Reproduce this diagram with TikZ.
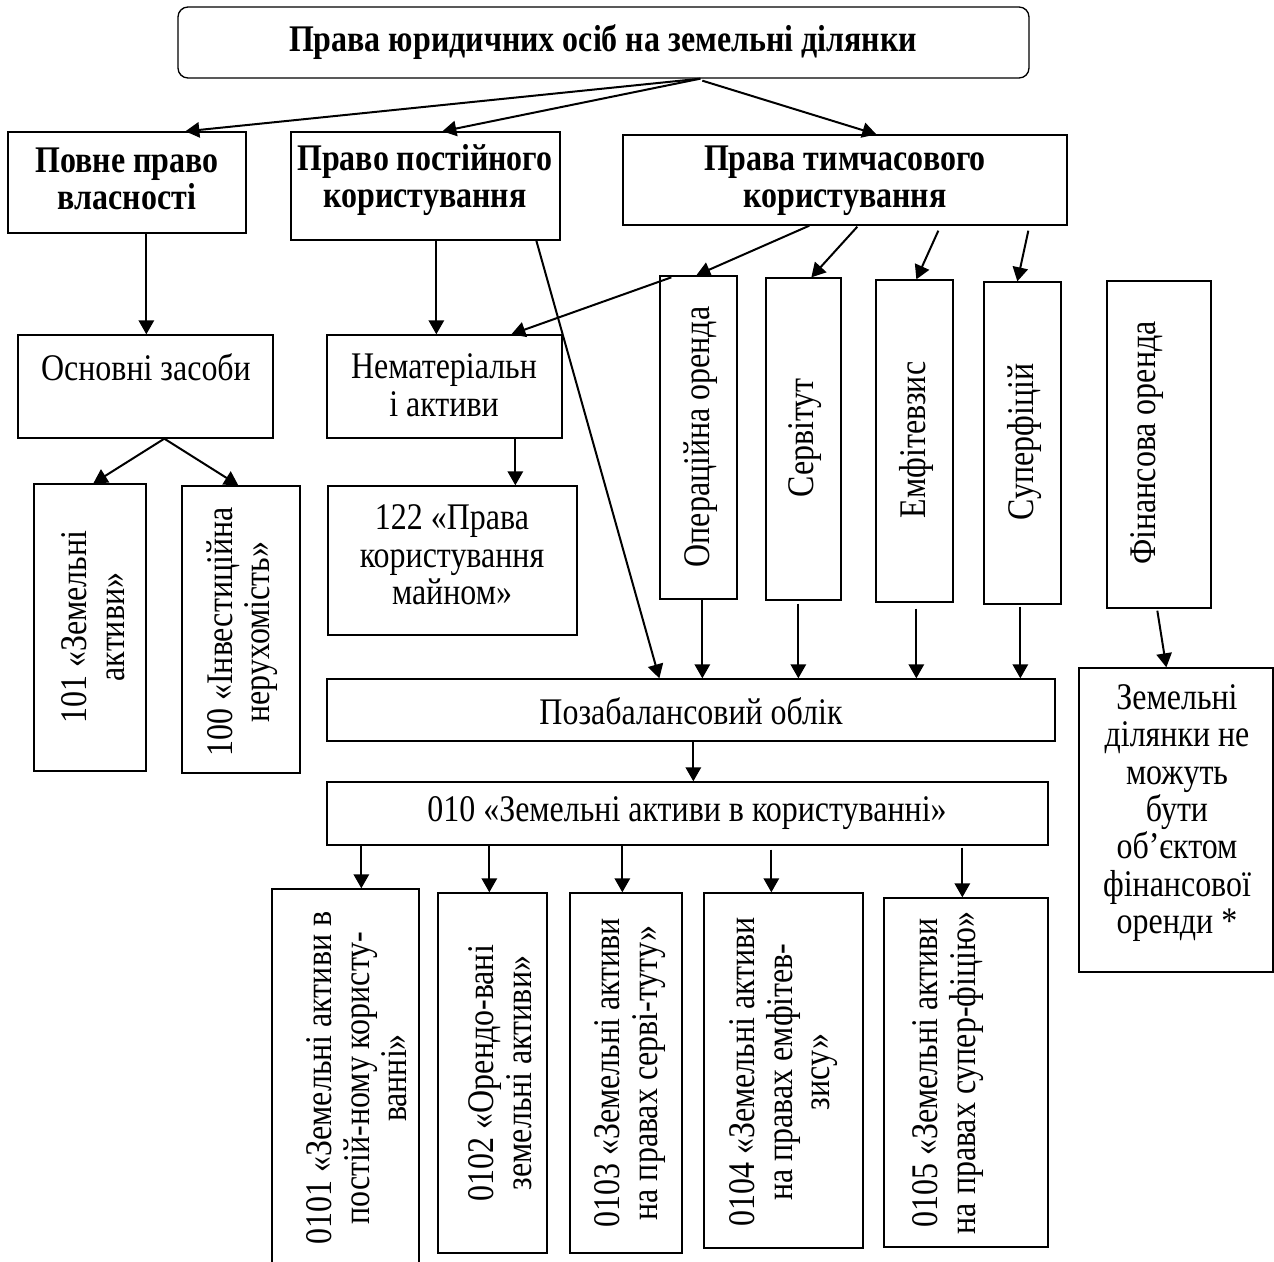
\documentclass[tikz,border=0pt]{standalone}
\usepackage{fontspec}
\setmainfont{Liberation Serif}[FakeStretch=0.85]
\usetikzlibrary{arrows.meta,fit,calc}
\begin{document}
\begin{tikzpicture}[x=0.75pt,y=-0.75pt,
  box/.style={draw, line width=1pt, inner sep=0pt, fill=white},
  txt/.style={inner sep=0pt, align=center, font=\fontsize{28.2}{28.1}\selectfont},
  btxt/.style={inner sep=0pt, align=center, font=\fontsize{28.2}{28.1}\selectfont\bfseries},
  vtxt/.style={inner sep=0pt, align=center, font=\fontsize{28.2}{28.1}\selectfont, rotate=90},
  arr/.style={line width=1.5pt, -{Triangle[length=10.5pt,width=11.5pt]}}]
\useasboundingbox (0,0) rectangle (1274,1261);
\fill[white] (0,0) rectangle (1274,1261);
\clip (0,0) rectangle (1274,1261);

% ---------- boxes ----------
\node[box, rounded corners=7.5pt, fit={(178,7)(1029,78)}] (top) {};
\node[box, fit={(8,132)(246,233)}] (full) {};
\node[box, fit={(291,132)(560,240)}] (perm) {};
\node[box, fit={(623,135)(1067,225)}] (temp) {};
\node[box, fit={(18,335)(273,438)}] (os) {};
\node[box, fit={(327,335)(562,438)}] (nem) {};
\node[box, fit={(34,484)(146,771)}] (b101) {};
\node[box, fit={(182,486)(300,773)}] (b100) {};
\node[box, fit={(328,486)(577,635)}] (b122) {};
\node[box, fit={(660,276)(737,599)}] (oper) {};
\node[box, fit={(766,278)(841,600)}] (serv) {};
\node[box, fit={(876,280)(953,602)}] (emf) {};
\node[box, fit={(984,282)(1061,604)}] (sup) {};
\node[box, fit={(1107,281)(1211,608)}] (fin) {};
\node[box, fit={(327,679)(1055,741)}] (poza) {};
\node[box, fit={(1079,668)(1273,972)}] (zem) {};
\node[box, fit={(327,782)(1048,845)}] (b010) {};
\node[box, fit={(272,889)(419,1280)}] (b0101) {};
\node[box, fit={(438,893)(547,1253)}] (b0102) {};
\node[box, fit={(570,893)(682,1253)}] (b0103) {};
\node[box, fit={(704,893)(863,1248)}] (b0104) {};
\node[box, fit={(884,898)(1048,1247)}] (b0105) {};

% ---------- texts ----------
\node[btxt] (t-top) at (603,42) {Права юридичних осіб на земельні ділянки};
\node[btxt] (t-full) at (127,179) {Повне право\\власності};
\node[btxt] (t-perm) at (425,180) {Право постійного\\користування};
\node[btxt] (t-temp) at (845,181) {Права тимчасового\\користування};
\node[txt] (t-os) at (146,367) {Основні засоби};
\node[txt] (t-nem) at (444,385) {Нематеріальн\\і активи};
\node[txt] (t-122) at (452,555) {122 «Права\\користування\\майном»};
\node[txt] (t-poza) at (691,711) {Позабалансовий облік};
\node[txt] (t-010) at (687,813) {010 «Земельні активи в користуванні»};
\node[txt] (t-zem) at (1177,813) {Земельні\\ділянки не\\можуть\\бути\\об’єктом\\фінансової\\оренди *};

\node[vtxt] (t-101) at (93,627) {101 «Земельні\\активи»};
\node[vtxt] (t-100) at (242,632) {100 «Інвестиційна\\нерухомість»};
\node[vtxt] (t-oper) at (701,437) {Операційна оренда};
\node[vtxt] (t-serv) at (805,438) {Сервітут};
\node[vtxt] (t-emf) at (916,440) {Емфітевзис};
\node[vtxt] (t-sup) at (1024,442) {Суперфіцій};
\node[vtxt] (t-fin) at (1147,443) {Фінансова оренда};
\node[vtxt] (t-0101) at (357,1078) {0101 «Земельні активи в\\постій-ному користу-\\ванні»};
\node[vtxt] (t-0102) at (500,1073) {0102 «Орендо-вані\\земельні активи»};
\node[vtxt] (t-0103) at (630,1073) {0103 «Земельні активи\\на правах серві-туту»};
\node[vtxt] (t-0104) at (784,1072) {0104 «Земельні активи\\на правах емфітев-\\зису»};
\node[vtxt] (t-0105) at (948,1073) {0105 «Земельні активи\\на правах супер-фіцію»};

% ---------- connectors ----------
\draw[arr] ($(top.south west)+(523,0)$) -- ($(full.north west)+(178,0)$);
\draw[arr] ($(top.south west)+(523,0)$) -- ($(perm.north west)+(152,0)$);
\draw[arr] ($(top.south west)+(525,2)$) -- ($(temp.north west)+(254,0)$);

\draw[arr] ($(full.south west)+(139,0)$) -- ($(os.north west)+(129,0)$);
\draw[arr] ($(perm.south west)+(146,0)$) -- ($(nem.north west)+(110,0)$);
\draw[arr] ($(perm.south west)+(246,0)$) -- ($(poza.north west)+(333,0)$);

\draw[arr] ($(temp.south west)+(187,0)$) -- ($(oper.north west)+(37,0)$);
\draw[arr] ($(oper.north west)+(12,2)$) -- ($(nem.north west)+(185,0)$);
\draw[arr] ($(temp.south west)+(235,1)$) -- ($(serv.north west)+(46,0)$);
\draw[arr] ($(temp.south west)+(316,5)$) -- ($(emf.north west)+(41,0)$);
\draw[arr] ($(temp.south west)+(406,5)$) -- ($(sup.north west)+(34,0)$);

\draw[arr] ($(os.south west)+(147,0)$) -- ($(b101.north west)+(60,0)$);
\draw[arr] ($(os.south west)+(147,0)$) -- ($(b100.north west)+(57,0)$);
\draw[arr] ($(nem.south west)+(189,0)$) -- ($(b122.north west)+(188,0)$);

\draw[arr] ($(oper.south west)+(43,0)$) -- ($(poza.north west)+(376,0)$);
\draw[arr] ($(serv.south west)+(33,3)$) -- ($(poza.north west)+(472,0)$);
\draw[arr] ($(emf.south west)+(41,6)$) -- ($(poza.north west)+(590,0)$);
\draw[arr] ($(sup.south west)+(37,2)$) -- ($(poza.north west)+(694,0)$);
\draw[arr] ($(fin.south west)+(51,2)$) -- ($(zem.north west)+(88,0)$);

\draw[arr] ($(poza.south west)+(367,0)$) -- ($(b010.north west)+(367,0)$);
\draw[arr] ($(b010.south west)+(35,0)$) -- ($(b0101.north west)+(90,0)$);
\draw[arr] ($(b010.south west)+(163,0)$) -- ($(b0102.north west)+(52,0)$);
\draw[arr] ($(b010.south west)+(296,0)$) -- ($(b0103.north west)+(53,0)$);
\draw[arr] ($(b010.south west)+(445,4)$) -- ($(b0104.north west)+(68,0)$);
\draw[arr] ($(b010.south west)+(636,2)$) -- ($(b0105.north west)+(79,0)$);
\end{tikzpicture}
\end{document}
